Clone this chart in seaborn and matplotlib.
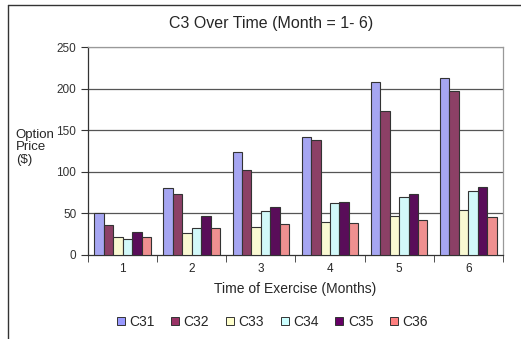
import pandas as pd
import numpy as np
import matplotlib
matplotlib.use("Agg")
import matplotlib.pyplot as plt
import seaborn as sns
from matplotlib.lines import Line2D

# ---------------- Datos ----------------
meses = ['1', '2', '3', '4', '5', '6']
series = ['C31', 'C32', 'C33', 'C34', 'C35', 'C36']
c31 = [51, 80, 124, 142, 208, 213]
c32 = [36, 73, 102, 138, 173, 197]
c33 = [22, 26, 34, 40, 47, 54]
c34 = [19, 32, 53, 62, 70, 77]
c35 = [28, 47, 58, 64, 73, 82]
c36 = [22, 32, 37, 39, 42, 46]
colores = ['#9999FF', '#993366', '#FFFFCC', '#CCFFFF', '#660066', '#FF8080']

valores = [c31, c32, c33, c34, c35, c36]
df = pd.DataFrame({
    'Mes': np.tile(meses, len(series)),
    'Serie': np.repeat(series, len(meses)),
    'Precio': np.concatenate(valores),
})

sns.set_style('white')
plt.rcParams['font.family'] = ['Liberation Sans', 'DejaVu Sans']

fig = plt.figure(figsize=(5.21, 3.39), dpi=100)
ax = fig.add_axes([0.169, 0.248, 0.796, 0.613])

sns.barplot(data=df, x='Mes', y='Precio', hue='Serie', palette=colores,
            width=0.82, edgecolor='#333333', linewidth=0.8, ax=ax, legend=False,
            zorder=3)

ax.set_ylim(0, 250)
ax.set_xlim(-0.5, 5.5)
ax.set_yticks([0, 50, 100, 150, 200, 250])
for y in [50, 100, 150, 200]:
    ax.axhline(y, color='#555555', lw=0.9, zorder=0)
ax.axhline(250, color='#999999', lw=0.9, zorder=0)

for lado in ['top', 'right']:
    ax.spines[lado].set_color('#999999')
    ax.spines[lado].set_linewidth(0.9)
for lado in ['left', 'bottom']:
    ax.spines[lado].set_color('#333333')
    ax.spines[lado].set_linewidth(0.9)

ax.tick_params(axis='y', which='major', direction='out', length=5, color='#333333',
               labelsize=8.5, labelcolor='#333333', left=True)
ax.tick_params(axis='x', which='major', length=0, labelsize=8.5, pad=6)
ax.set_xticks(np.arange(-0.5, 6.0, 1.0), minor=True)
ax.tick_params(axis='x', which='minor', direction='out', length=5, color='#333333', bottom=True)

ax.set_xlabel('Time of Exercise (Months)', fontsize=10, labelpad=5)
ax.set_ylabel('')
fig.text(0.03, 0.565, 'Option\nPrice\n($)', fontsize=9.5, va='center', ha='left',
         linespacing=1.1)
fig.text(0.52, 0.932, 'C3 Over Time (Month = 1- 6)', fontsize=11.5, ha='center', va='center')

# Leyenda con cuadritos
manijas = [Line2D([], [], marker='s', ls='', markersize=6, markerfacecolor=c,
                  markeredgecolor='#333333', markeredgewidth=0.7) for c in colores]
fig.legend(manijas, series, loc='center', bbox_to_anchor=(0.52, 0.05), ncol=6,
           frameon=False, fontsize=10, handletextpad=0.1, columnspacing=1.0,
           handlelength=1.0)

# Marco exterior
fig.add_artist(Line2D([0.015, 1.0], [0.985, 0.985], color='#333333', lw=1.0,
                      transform=fig.transFigure))
fig.add_artist(Line2D([0.015, 0.015], [0.0, 0.985], color='#333333', lw=1.0,
                      transform=fig.transFigure))

fig.savefig('out.png', dpi=100)
